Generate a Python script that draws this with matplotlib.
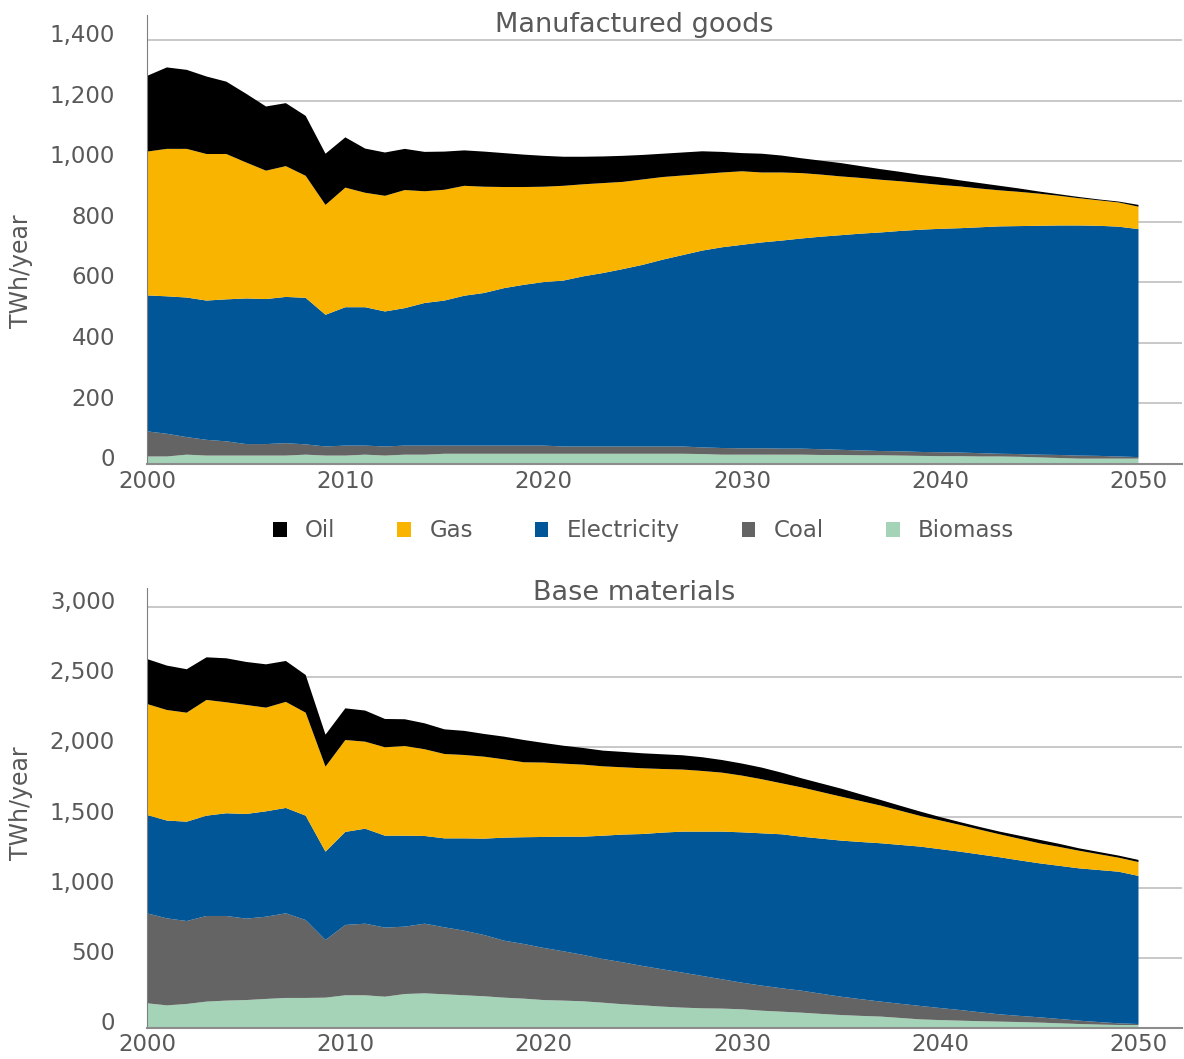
import numpy as np
import matplotlib.pyplot as plt
from matplotlib.patches import Patch
from matplotlib.transforms import ScaledTranslation

plt.rcParams['font.family'] = ['DejaVu Sans']

years = np.arange(2000, 2051)

# Manufactured goods (TWh/year)
mg_biomass = [25, 25, 31, 28, 28, 28, 28, 28, 31, 28,
              28, 31, 28, 31, 31, 34, 34, 34, 34, 34,
              34, 34, 34, 34, 34, 34, 34, 34, 33, 31,
              31, 31, 31, 31, 30, 30, 29, 29, 28, 27,
              26, 26, 25, 25, 24, 22, 20, 18, 18, 18,
              18]
mg_coal = [83, 75, 58, 52, 47, 38, 38, 41, 34, 30,
           33, 30, 30, 30, 30, 27, 27, 27, 27, 27,
           27, 24, 24, 24, 24, 24, 24, 24, 22, 22,
           21, 21, 20, 20, 19, 17, 16, 14, 14, 13,
           13, 12, 11, 9, 9, 9, 10, 10, 9, 7,
           5]
mg_electricity = [449, 454, 461, 460, 469, 481, 479, 483, 484, 435,
                  457, 457, 446, 454, 471, 479, 495, 504, 520, 531,
                  540, 548, 562, 573, 586, 600, 617, 632, 650, 663,
                  672, 680, 687, 694, 702, 709, 716, 722, 728, 734,
                  738, 741, 746, 751, 753, 756, 758, 760, 760, 759,
                  753]
mg_gas = [475, 487, 491, 484, 480, 449, 424, 432, 403, 363,
          395, 378, 382, 390, 369, 366, 363, 351, 334, 323,
          315, 313, 304, 297, 288, 282, 273, 263, 253, 247,
          243, 231, 225, 216, 205, 194, 184, 174, 164, 154,
          145, 138, 128, 119, 113, 106, 98, 90, 84, 80,
          74]
mg_oil = [250, 269, 261, 256, 239, 227, 212, 208, 198, 169,
          166, 146, 143, 136, 130, 126, 117, 116, 112, 107,
          102, 96, 91, 88, 86, 81, 77, 76, 75, 68,
          60, 62, 56, 49, 46, 44, 39, 35, 31, 27,
          25, 20, 18, 15, 11, 7, 5, 4, 3, 3,
          6]

# Base materials (TWh/year)
bm_biomass = [174, 159, 169, 186, 193, 197, 205, 212, 212, 214,
              231, 231, 221, 240, 245, 238, 231, 224, 214, 207,
              197, 193, 188, 178, 167, 159, 150, 143, 138, 136,
              131, 121, 114, 107, 98, 90, 84, 79, 69, 59,
              54, 50, 46, 43, 40, 36, 31, 26, 22, 19,
              19]
bm_coal = [642, 621, 592, 611, 604, 581, 587, 604, 556, 412,
           502, 511, 493, 481, 497, 478, 461, 437, 407, 390,
           372, 352, 331, 312, 299, 281, 266, 250, 231, 209,
           190, 179, 167, 157, 144, 131, 119, 107, 101, 96,
           86, 76, 64, 52, 44, 38, 31, 24, 18, 12,
           7]
bm_electricity = [702, 698, 709, 716, 733, 747, 752, 752, 745, 630,
                  664, 678, 656, 649, 626, 635, 659, 688, 735, 762,
                  792, 818, 844, 880, 912, 942, 976, 1006, 1030, 1054,
                  1073, 1087, 1099, 1099, 1107, 1114, 1122, 1130, 1134, 1137,
                  1134, 1130, 1126, 1121, 1110, 1099, 1093, 1087, 1085, 1082,
                  1057]
bm_gas = [792, 789, 778, 826, 792, 778, 740, 757, 735, 607,
          656, 621, 631, 640, 619, 602, 595, 585, 559, 535,
          531, 521, 514, 495, 480, 469, 454, 443, 433, 421,
          405, 386, 364, 352, 333, 314, 292, 269, 244, 219,
          205, 191, 177, 164, 154, 143, 135, 126, 113, 100,
          99]
bm_oil = [321, 317, 310, 304, 314, 307, 309, 292, 269, 228,
          226, 222, 202, 191, 185, 176, 172, 162, 162, 159,
          140, 128, 119, 112, 110, 107, 105, 102, 98, 90,
          86, 83, 76, 65, 61, 57, 48, 40, 35, 31,
          24, 20, 19, 19, 22, 25, 22, 17, 16, 15,
          15]

names = ['Biomass', 'Coal', 'Electricity', 'Gas', 'Oil']
colores = ['#A5D3B8', '#646464', '#005696', '#F9B400', '#000000']
gris = '#595959'

fig = plt.figure(figsize=(11.84, 10.59), dpi=100)
ax1 = fig.add_axes([0.1242, 0.5618, 0.8742, 0.4240])
ax2 = fig.add_axes([0.1242, 0.0296, 0.8742, 0.4152])


def dibujar(ax, series, ymax, paso, titulo, y_titulo, y_label):
    ax.stackplot(years, *series, colors=colores, linewidth=0)
    ax.set_xlim(2000, 2052.2)
    ax.set_ylim(0, ymax)
    ax.set_yticks(np.arange(0, ymax, paso))
    ax.set_yticklabels(['{:,}'.format(v) for v in np.arange(0, ymax, paso)])
    ax.set_xticks([2000, 2010, 2020, 2030, 2040, 2050])
    ax.grid(axis='y', color='#BFBFBF', linewidth=1.2)
    ax.set_axisbelow(True)
    for s in ['top', 'right']:
        ax.spines[s].set_visible(False)
    ax.spines['left'].set_color('#7F7F7F')
    ax.spines['bottom'].set_color('#8C8C8C')
    ax.spines['bottom'].set_linewidth(1.5)
    ax.tick_params(axis='y', length=0, pad=23, labelsize=16.5, labelcolor=gris)
    ax.tick_params(axis='x', length=0, pad=4, labelsize=16.5, labelcolor=gris)
    for lab in ax.get_yticklabels():
        lab.set_transform(lab.get_transform() + ScaledTranslation(0, 5 / 72, fig.dpi_scale_trans))
    fig.text(0.536, y_titulo, titulo, ha='center', va='baseline',
             fontsize=19.5, color=gris)
    fig.text(0.0175, y_label, 'TWh/year', rotation=90, ha='center', va='center',
             fontsize=17, color=gris)


dibujar(ax1, [mg_biomass, mg_coal, mg_electricity, mg_gas, mg_oil], 1483, 200,
        'Manufactured goods', 0.9698, 0.744)
dibujar(ax2, [bm_biomass, bm_coal, bm_electricity, bm_gas, bm_oil], 3138, 500,
        'Base materials', 0.4334, 0.2417)

handles = [Patch(facecolor=c, label=n) for n, c in zip(names, colores)][::-1]
fig.legend(handles=handles, loc='center', bbox_to_anchor=(0.5435, 0.4986), ncol=5,
           frameon=False, fontsize=16.5, labelcolor=gris, handlelength=0.6,
           handleheight=0.6, handletextpad=0.8, columnspacing=2.7)

plt.savefig('out.png', dpi=100)
